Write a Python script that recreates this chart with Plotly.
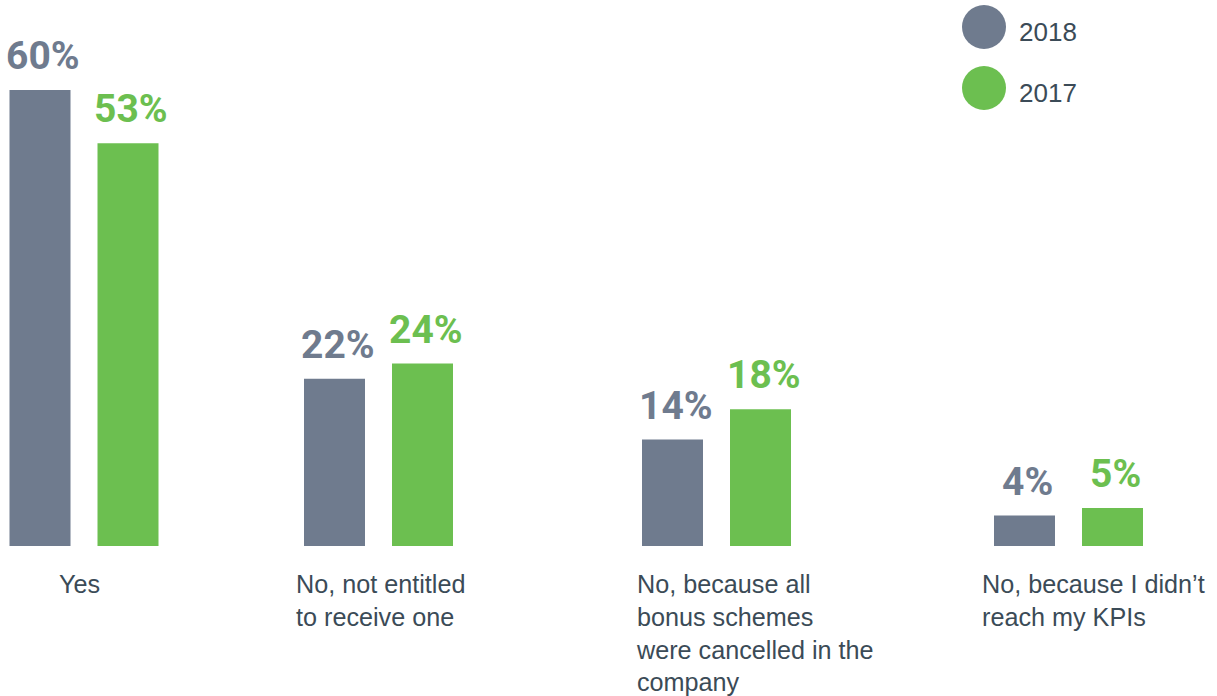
import plotly.graph_objects as go

# Survey answers and shares (%) per year
categories = [
    "Yes",
    "No, not entitled<br>to receive one",
    "No, because all<br>bonus schemes<br>were cancelled in the<br>company",
    "No, because I didn’t<br>reach my KPIs",
]
series_names = ["2018", "2017"]
values_2018 = [60, 22, 14, 4]
values_2017 = [53, 24, 18, 5]

# Layout: group centres on a 0..1217 horizontal scale, left edge of each category caption
group_centres = [84, 378.5, 716.5, 1068.5]
caption_left = [57, 294, 634, 980]
bar_offset = 44
bar_width = 61

GREY = "#6F7B8E"
GREEN = "#6CBF50"
TEXT = "#3B4B57"
VALUE_FONT = "Roboto, Liberation Sans, sans-serif"
BODY_FONT = "Liberation Sans, Arial, Helvetica, sans-serif"

fig = go.Figure()
annotations = []
for name, vals, sign, colour in [
    (series_names[0], values_2018, -1, GREY),
    (series_names[1], values_2017, 1, GREEN),
]:
    xs = [c + sign * bar_offset for c in group_centres]
    fig.add_trace(go.Bar(
        x=xs, y=vals, width=bar_width, name=name,
        marker=dict(color=colour, line=dict(width=0)),
        showlegend=False, hoverinfo="skip",
    ))
    for x, v in zip(xs, vals):
        annotations.append(dict(
            x=x, y=v, xref="x", yref="y", text=f"<b>{v}%</b>",
            showarrow=False, xanchor="center", yanchor="bottom",
            xshift=3, yshift=9,
            font=dict(family=VALUE_FONT, size=39, color=colour),
        ))

# Category captions under each group
for x, label in zip(caption_left, categories):
    annotations.append(dict(
        x=x, y=0, xref="x", yref="paper", text=label,
        showarrow=False, xanchor="left", yanchor="top", align="left",
        yshift=-22,
        font=dict(family=BODY_FONT, size=25.2, color=TEXT),
    ))

# Custom legend: large dots with year labels
shapes = []
legend_rows = [(27, series_names[0], GREY), (88, series_names[1], GREEN)]
for py, name, colour in legend_rows:
    yp = 1 - py / 546
    shapes.append(dict(
        type="circle", xref="x", yref="paper",
        xsizemode="scaled", ysizemode="pixel", yanchor=yp,
        x0=984 - 22, x1=984 + 22, y0=-22, y1=22,
        fillcolor=colour, line=dict(width=0),
    ))
    annotations.append(dict(
        x=1017, y=yp, xref="x", yref="paper", text=name,
        showarrow=False, xanchor="left", yanchor="middle", yshift=-5,
        font=dict(family=BODY_FONT, size=26, color=TEXT),
    ))

fig.update_layout(
    width=1217, height=696,
    margin=dict(l=0, r=0, t=0, b=150),
    paper_bgcolor="white", plot_bgcolor="white",
    barmode="overlay",
    xaxis=dict(range=[0, 1217], visible=False, fixedrange=True),
    yaxis=dict(range=[0, 546 / 7.6], visible=False, fixedrange=True),
    annotations=annotations,
    shapes=shapes,
)

fig.write_html("out.html")
